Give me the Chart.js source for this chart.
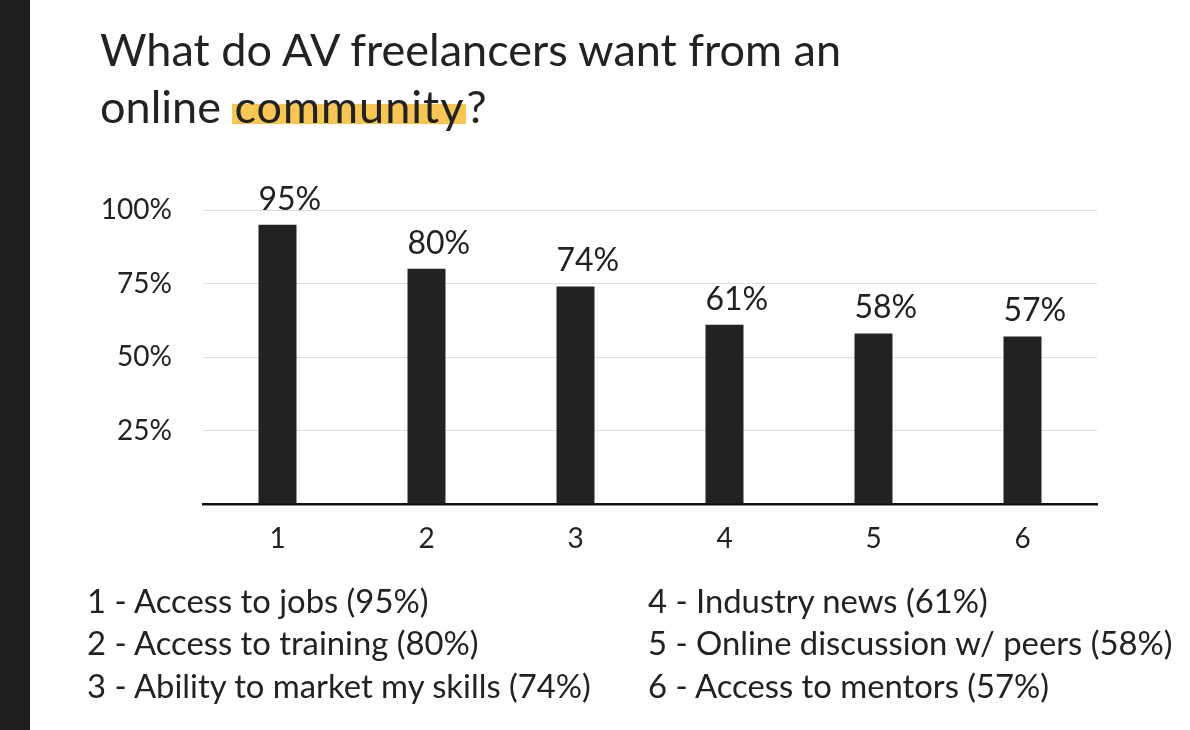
<!DOCTYPE html>
<html>
<head>
<meta charset="utf-8">
<script src="https://cdn.jsdelivr.net/npm/chart.js@4.4.1/dist/chart.umd.min.js"></script>
<style>
  html, body { margin: 0; padding: 0; background: #fff; }
  body { width: 1190px; height: 730px; position: relative; overflow: hidden; font-family: Lato, "Open Sans", sans-serif; color: #222; }
  #strip { position: absolute; left: 0; top: 0; width: 30px; height: 730px; background: #1f1f1f; }
  #title { position: absolute; left: 100px; top: 20.5px; font-size: 45px; line-height: 57px; white-space: nowrap; }
  .hl { background: linear-gradient(to bottom, transparent 46%, #f6c553 46%, #f6c553 84%, transparent 84%); letter-spacing: 1px; padding-left: 2px; padding-right: 2px; }
  #chartwrap { position: absolute; left: 0; top: 0; width: 1190px; height: 730px; }
  .legcol { position: absolute; top: 579.5px; font-size: 32.8px; line-height: 42.5px; white-space: nowrap; }
</style>
</head>
<body>
<div id="strip"></div>
<div id="chartwrap"><canvas id="c" width="1190" height="730"></canvas></div>
<div id="title">What do AV freelancers want from an<br>online <span class="hl">community</span>?</div>
<div class="legcol" id="legL" style="left:87px"></div>
<div class="legcol" id="legR" style="left:648px"></div>
<script>
const categories = ["1", "2", "3", "4", "5", "6"];
const descriptions = ["Access to jobs", "Access to training", "Ability to market my skills", "Industry news", "Online discussion w/ peers", "Access to mentors"];
const values = [95, 80, 74, 61, 58, 57];
const yTicks = [0, 25, 50, 75, 100];

// legend text
const leftLines = [], rightLines = [];
categories.forEach((c, i) => {
  const line = c + " - " + descriptions[i] + " (" + values[i] + "%)";
  (i < 3 ? leftLines : rightLines).push(line);
});
document.getElementById('legL').innerHTML = leftLines.join('<br>');
document.getElementById('legR').innerHTML = rightLines.join('<br>');

const labelPlugin = {
  id: 'barLabels',
  afterDatasetsDraw(chart) {
    const ctx = chart.ctx;
    const meta = chart.getDatasetMeta(0);
    ctx.save();
    ctx.font = '32px Lato, "Open Sans", sans-serif';
    ctx.fillStyle = '#222';
    ctx.textAlign = 'left';
    ctx.textBaseline = 'alphabetic';
    meta.data.forEach((bar, i) => {
      ctx.fillText(values[i] + '%', bar.x - bar.width / 2, bar.y - 15);
    });
    ctx.restore();
  }
};

new Chart(document.getElementById('c'), {
  type: 'bar',
  data: {
    labels: categories,
    datasets: [{
      data: values,
      backgroundColor: '#222222',
      borderWidth: 0,
      categoryPercentage: 1,
      barPercentage: 0.255
    }]
  },
  options: {
    responsive: false,
    animation: false,
    layout: { padding: { left: 100, right: 93, top: 210, bottom: 166 } },
    plugins: { legend: { display: false }, tooltip: { enabled: false } },
    scales: {
      x: {
        grid: { display: false, drawTicks: false },
        border: { display: true, color: '#111', width: 2.5 },
        ticks: { color: '#222', font: { family: 'Lato', size: 28 }, padding: 18, maxRotation: 0 },
        afterFit(s) { s.height = 60; s.paddingLeft = 0; s.paddingRight = 0; }
      },
      y: {
        min: 0, max: 100,
        afterBuildTicks(s) { s.ticks = yTicks.map(v => ({ value: v })); },
        grid: { color: ctx => ctx.tick && ctx.tick.value === 0 ? 'rgba(0,0,0,0)' : '#dddddd', lineWidth: 1, drawTicks: false },
        border: { display: false },
        ticks: {
          color: '#222', font: { family: 'Lato', size: 28 }, padding: 31,
          callback: v => v === 0 ? '' : v + '%'
        },
        afterFit(s) { s.width = 103; s.paddingTop = 0; s.paddingBottom = 0; }
      }
    }
  },
  plugins: [labelPlugin]
});
</script>
</body>
</html>
